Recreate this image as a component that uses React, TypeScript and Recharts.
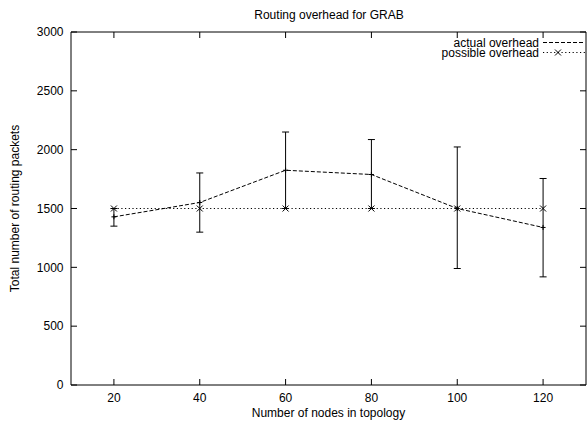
import { LineChart, Line, XAxis, YAxis, ErrorBar } from "recharts";

const nodes = [20, 40, 60, 80, 100, 120];
const actualOverhead = [1429, 1551, 1825, 1789, 1500, 1339];
const actualLow = [1350, 1299, 1500, 1500, 990, 919];
const actualHigh = [1500, 1802, 2150, 2086, 2023, 1755];
const possibleOverhead = [1500, 1500, 1500, 1500, 1500, 1500];
const xTicks = [20, 40, 60, 80, 100, 120];
const yTicks = [0, 500, 1000, 1500, 2000, 2500, 3000];
const seriesNames = ["actual overhead", "possible overhead"];

const data = nodes.map((n, i) => ({
  nodes: n,
  actual: actualOverhead[i],
  err: [actualOverhead[i] - actualLow[i], actualHigh[i] - actualOverhead[i]],
  possible: possibleOverhead[i],
}));

const FONT = "'Liberation Sans', Arial, Helvetica, sans-serif";
const TICK = 6;
const ACTUAL_DASH = "4 2";
const POSSIBLE_DASH = "1.2 2.5";

function BottomTick({ x, y, payload }: any) {
  return (
    <g>
      <line x1={x} x2={x} y1={y} y2={y - TICK} stroke="#000" />
      <text x={x} y={y + 17} textAnchor="middle" fontSize={12} fontFamily={FONT} fill="#000">
        {payload.value}
      </text>
    </g>
  );
}

function TopTick({ x, y }: any) {
  return <line x1={x} x2={x} y1={y} y2={y + TICK} stroke="#000" />;
}

function LeftTick({ x, y, payload }: any) {
  return (
    <g>
      <line x1={x} x2={x + TICK} y1={y} y2={y} stroke="#000" />
      <text x={x - 7.5} y={y + 4.3} textAnchor="end" fontSize={12} fontFamily={FONT} fill="#000">
        {payload.value}
      </text>
    </g>
  );
}

function RightTick({ x, y }: any) {
  return <line x1={x} x2={x - TICK} y1={y} y2={y} stroke="#000" />;
}

function PlusDot({ cx, cy, index }: any) {
  return (
    <path
      key={index}
      d={`M${cx - 2.5},${cy}H${cx + 2.5}M${cx},${cy - 2.5}V${cy + 2.5}`}
      stroke="#000"
      strokeWidth={1}
      fill="none"
    />
  );
}

function CrossDot({ cx, cy, index }: any) {
  return (
    <path
      key={index}
      d={`M${cx - 3},${cy - 3}L${cx + 3},${cy + 3}M${cx - 3},${cy + 3}L${cx + 3},${cy - 3}`}
      stroke="#000"
      strokeWidth={1}
      fill="none"
    />
  );
}

function Overlay() {
  return (
    <svg
      width={587}
      height={421}
      style={{ position: "absolute", left: 0, top: 0, pointerEvents: "none" }}
      fontFamily={FONT}
      fontSize={12}
    >
      <text x={329} y={18.5} textAnchor="middle" fill="#000">
        Routing overhead for GRAB
      </text>
      <text x={539} y={46.5} textAnchor="end" fill="#000">
        {seriesNames[0]}
      </text>
      <line x1={543} x2={585} y1={42.5} y2={42.5} stroke="#000" strokeDasharray={ACTUAL_DASH} />
      <text x={539} y={57} textAnchor="end" fill="#000">
        {seriesNames[1]}
      </text>
      <line x1={543} x2={585} y1={52.5} y2={52.5} stroke="#000" strokeDasharray={POSSIBLE_DASH} />
      <CrossDot cx={558} cy={52.5} />
    </svg>
  );
}

export default function App() {
  return (
    <div style={{ position: "absolute", left: 0, top: 0, width: 587, height: 421, background: "#fff" }}>
      <LineChart
        width={587}
        height={421}
        data={data}
        margin={{ top: 31, right: 0, bottom: 0, left: 0 }}
        style={{ fontFamily: FONT }}
      >
        <XAxis
          dataKey="nodes"
          type="number"
          domain={[10, 130]}
          ticks={xTicks}
          allowDataOverflow
          height={36}
          tickLine={false}
          tickSize={0}
          tickMargin={0}
          tick={BottomTick}
          axisLine={{ stroke: "#000" }}
          label={{
            value: "Number of nodes in topology",
            position: "insideBottom",
            offset: 4,
            fontSize: 12,
            fill: "#000",
          }}
        />
        <XAxis
          xAxisId="top"
          dataKey="nodes"
          type="number"
          orientation="top"
          domain={[10, 130]}
          ticks={xTicks}
          allowDataOverflow
          height={1}
          tickLine={false}
          tickSize={0}
          tickMargin={0}
          tick={TopTick}
          axisLine={{ stroke: "#000" }}
        />
        <YAxis
          type="number"
          domain={[0, 3000]}
          ticks={yTicks}
          allowDataOverflow
          width={71}
          tickLine={false}
          tickSize={0}
          tickMargin={0}
          tick={LeftTick}
          axisLine={{ stroke: "#000" }}
          label={{
            value: "Total number of routing packets",
            angle: -90,
            position: "insideLeft",
            offset: 15,
            fontSize: 12,
            fill: "#000",
            style: { textAnchor: "middle" },
          }}
        />
        <YAxis
          yAxisId="right"
          orientation="right"
          type="number"
          domain={[0, 3000]}
          ticks={yTicks}
          allowDataOverflow
          width={1}
          tickLine={false}
          tickSize={0}
          tickMargin={0}
          tick={RightTick}
          axisLine={{ stroke: "#000" }}
        />
        <Line
          dataKey="actual"
          name={seriesNames[0]}
          type="linear"
          stroke="#000"
          strokeWidth={1}
          strokeDasharray={ACTUAL_DASH}
          dot={PlusDot}
          activeDot={false}
          isAnimationActive={false}
        >
          <ErrorBar dataKey="err" direction="y" width={3.5} stroke="#000" strokeWidth={1} isAnimationActive={false} />
        </Line>
        <Line
          dataKey="possible"
          name={seriesNames[1]}
          type="linear"
          stroke="#000"
          strokeWidth={1}
          strokeDasharray={POSSIBLE_DASH}
          dot={CrossDot}
          activeDot={false}
          isAnimationActive={false}
        />
      </LineChart>
      <Overlay />
    </div>
  );
}
